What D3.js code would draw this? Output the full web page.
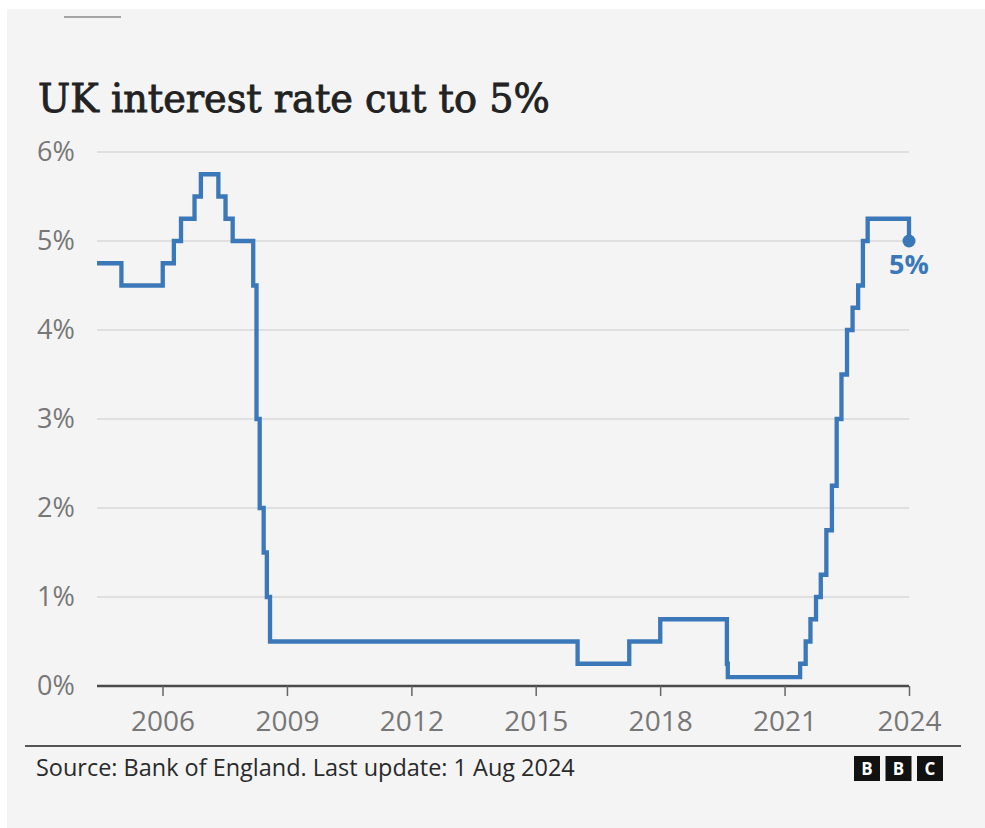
<!DOCTYPE html>
<html>
<head>
<meta charset="utf-8">
<script src="https://cdn.jsdelivr.net/npm/d3@7"></script>
<style>
  html, body { margin: 0; padding: 0; background: #ffffff; }
  svg { display: block; }
</style>
</head>
<body>
<svg id="chart" width="985" height="828"></svg>
<script>
// Bank Rate decisions: date the new rate took effect, and the rate (%)
const changeDates = [
  "2005-01-01", "2005-08-04", "2006-08-03", "2006-11-09", "2007-01-11",
  "2007-05-10", "2007-07-05", "2007-12-06", "2008-02-07", "2008-04-10",
  "2008-10-08", "2008-11-06", "2008-12-04", "2009-01-08", "2009-02-05",
  "2009-03-05", "2016-08-04", "2017-11-02", "2018-08-02", "2020-03-11",
  "2020-03-19", "2021-12-16", "2022-02-03", "2022-03-17", "2022-05-05",
  "2022-06-16", "2022-08-04", "2022-09-22", "2022-11-03", "2022-12-15",
  "2023-02-02", "2023-03-23", "2023-05-11", "2023-06-22", "2023-08-03",
  "2024-08-01"
];
const rates = [
  4.75, 4.5, 4.75, 5.0, 5.25,
  5.5, 5.75, 5.5, 5.25, 5.0,
  4.5, 3.0, 2.0, 1.5, 1.0,
  0.5, 0.25, 0.5, 0.75, 0.25,
  0.1, 0.25, 0.5, 0.75, 1.0,
  1.25, 1.75, 2.25, 3.0, 3.5,
  4.0, 4.25, 4.5, 5.0, 5.25,
  5.0
];
const tickYears = [2006, 2009, 2012, 2015, 2018, 2021, 2024];
const yTicks = [0, 1, 2, 3, 4, 5, 6];
const titleText = "UK interest rate cut to 5%";
const sourceText = "Source: Bank of England. Last update: 1 Aug 2024";
const endLabel = "5%";

const parse = d3.timeParse("%Y-%m-%d");
const data = changeDates.map((d, i) => ({ date: parse(d), rate: rates[i] }));
const last = data[data.length - 1];

const svg = d3.select("#chart");
const W = 985, H = 828;
const margin = { left: 97, right: 76, top: 152, bottom: 142 };
const sansFont = "'Open Sans', sans-serif";

// shrink or grow a text element's font until it spans the given width
function fitWidth(sel, size, width) {
  sel.attr("font-size", size);
  const w = sel.node().getComputedTextLength();
  sel.attr("font-size", size * width / w);
}

// card background
svg.append("rect").attr("x", 0).attr("y", 0).attr("width", W).attr("height", H).attr("fill", "#ffffff");
svg.append("rect").attr("x", 7).attr("y", 9).attr("width", W - 7).attr("height", H - 9).attr("fill", "#f4f4f4");
svg.append("line").attr("x1", 64).attr("x2", 121).attr("y1", 17).attr("y2", 17)
  .attr("stroke", "#8a8a8a").attr("stroke-width", 1.5);

// title
const title = svg.append("text")
  .attr("x", 38).attr("y", 112)
  .attr("font-family", "'DejaVu Serif', serif")
  .attr("fill", "#222222")
  .attr("stroke", "#222222")
  .attr("stroke-width", 0.9)
  .text(titleText);
fitWidth(title, 34, 512);

const x = d3.scaleTime()
  .domain([data[0].date, last.date])
  .range([margin.left, W - margin.right]);
const y = d3.scaleLinear()
  .domain([0, 6])
  .range([H - margin.bottom, margin.top]);

// horizontal gridlines
svg.append("g")
  .selectAll("line")
  .data(yTicks.filter(d => d > 0))
  .join("line")
  .attr("x1", x.range()[0]).attr("x2", x.range()[1])
  .attr("y1", d => y(d)).attr("y2", d => y(d))
  .attr("stroke", "#d8d8d8").attr("stroke-width", 1.5);

// y labels
svg.append("g")
  .selectAll("text")
  .data(yTicks)
  .join("text")
  .attr("x", 37)
  .attr("y", d => y(d))
  .attr("dy", "0.35em")
  .attr("font-family", sansFont)
  .attr("font-size", 27)
  .attr("fill", "#777777")
  .text(d => d + "%");

// x axis
const xTickDates = tickYears.map(yr => new Date(yr, 7, 1));
const xAxis = d3.axisBottom(x)
  .tickValues(xTickDates)
  .tickFormat(d3.timeFormat("%Y"))
  .tickSize(10)
  .tickPadding(15);
const gx = svg.append("g")
  .attr("transform", `translate(0,${y(0)})`)
  .call(xAxis);
gx.select(".domain").attr("stroke", "#4a4a4a").attr("stroke-width", 2.5)
  .attr("d", `M${x.range()[0]},0H${x.range()[1]}`);
gx.selectAll(".tick line").attr("stroke", "#666666").attr("stroke-width", 1.5);
gx.selectAll(".tick text")
  .attr("font-family", sansFont)
  .attr("font-size", 28)
  .attr("fill", "#777777");

// rate line
const line = d3.line()
  .x(d => x(d.date))
  .y(d => y(d.rate))
  .curve(d3.curveStepAfter);
svg.append("path")
  .datum(data)
  .attr("d", line)
  .attr("fill", "none")
  .attr("stroke", "#3a78b9")
  .attr("stroke-width", 4.3)
  .attr("stroke-linejoin", "miter");

// end point and label
svg.append("circle")
  .attr("cx", x(last.date)).attr("cy", y(last.rate)).attr("r", 6.5)
  .attr("fill", "#3a78b9");
svg.append("text")
  .attr("x", x(last.date)).attr("y", y(last.rate) + 33)
  .attr("text-anchor", "middle")
  .attr("font-family", sansFont)
  .attr("font-weight", "bold")
  .attr("font-size", 27)
  .attr("fill", "#3a78b9")
  .text(endLabel);

// footer
svg.append("line").attr("x1", 25).attr("x2", 961).attr("y1", 746).attr("y2", 746)
  .attr("stroke", "#555555").attr("stroke-width", 2);
const source = svg.append("text")
  .attr("x", 36).attr("y", 776)
  .attr("font-family", sansFont)
  .attr("fill", "#2a2a2a")
  .text(sourceText);
fitWidth(source, 21, 539);

// BBC blocks
const logoLetters = ["B", "B", "C"];
const logo = svg.append("g").attr("transform", "translate(854,756)");
logo.selectAll("rect").data(logoLetters).join("rect")
  .attr("x", (d, i) => i * 31.5).attr("y", 0).attr("width", 26).attr("height", 25)
  .attr("fill", "#111111");
logo.selectAll("text").data(logoLetters).join("text")
  .attr("x", (d, i) => i * 31.5 + 13).attr("y", 19)
  .attr("text-anchor", "middle")
  .attr("font-family", sansFont)
  .attr("font-weight", "bold")
  .attr("font-size", 17)
  .attr("fill", "#ffffff")
  .text(d => d);
</script>
</body>
</html>
